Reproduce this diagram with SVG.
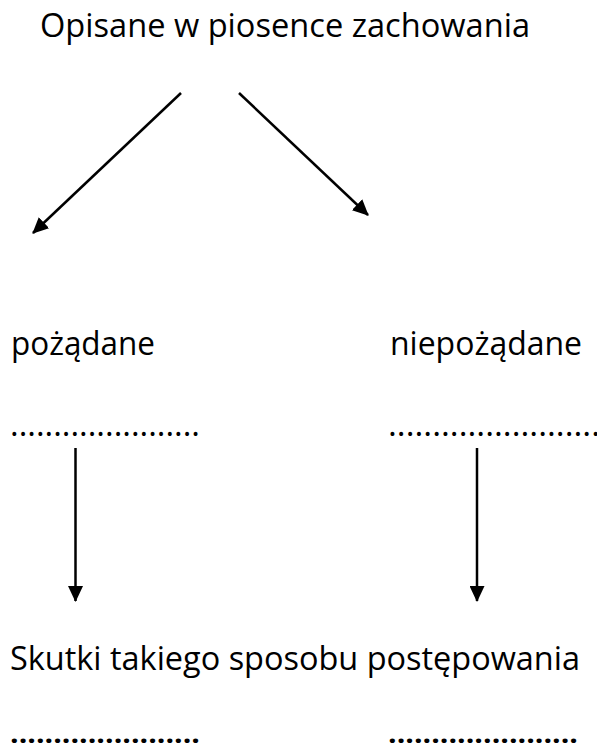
<svg xmlns="http://www.w3.org/2000/svg" width="597" height="751" viewBox="0 0 597 751">
<style>
text{font-family:"Open Sans","Noto Sans","Liberation Sans",sans-serif;font-size:32px;fill:#000}
text.d{font-size:26px;font-weight:bold}
.c{stroke:#000;stroke-width:2.5;fill:none}
</style>
<defs>
<marker id="ah" viewBox="0 0 16 15" refX="15" refY="7.5" markerWidth="16" markerHeight="15" markerUnits="userSpaceOnUse" orient="auto">
<path d="M0,0 L16,7.5 L0,15 Z" fill="#000"/>
</marker>
</defs>
<rect width="597" height="751" fill="#fff"/>
<g id="title"><text x="40" y="37" textLength="490" lengthAdjust="spacingAndGlyphs">Opisane w piosence zachowania</text></g>
<g id="pozadane"><text x="11" y="355" textLength="144" lengthAdjust="spacingAndGlyphs">pożądane</text></g>
<g id="niepozadane"><text x="390" y="355" textLength="192" lengthAdjust="spacingAndGlyphs">niepożądane</text></g>
<g id="dots1"><text x="10" y="436" textLength="190" lengthAdjust="spacingAndGlyphs">......................</text></g>
<g id="dots2"><text x="388" y="436" textLength="212" lengthAdjust="spacingAndGlyphs">........................</text></g>
<g id="skutki"><text x="10" y="670" textLength="570" lengthAdjust="spacingAndGlyphs">Skutki takiego sposobu postępowania</text></g>
<g id="dots3"><text class="d" x="10" y="743" textLength="190" lengthAdjust="spacingAndGlyphs">......................</text></g>
<g id="dots4"><text class="d" x="388" y="743" textLength="190" lengthAdjust="spacingAndGlyphs">......................</text></g>
<g id="connectors">
<line class="c" x1="181" y1="93" x2="33" y2="233" marker-end="url(#ah)"/>
<line class="c" x1="239" y1="93" x2="368" y2="215" marker-end="url(#ah)"/>
<line class="c" x1="75.5" y1="448" x2="75.5" y2="601" marker-end="url(#ah)"/>
<line class="c" x1="477" y1="448" x2="477" y2="601" marker-end="url(#ah)"/>
</g>
</svg>
